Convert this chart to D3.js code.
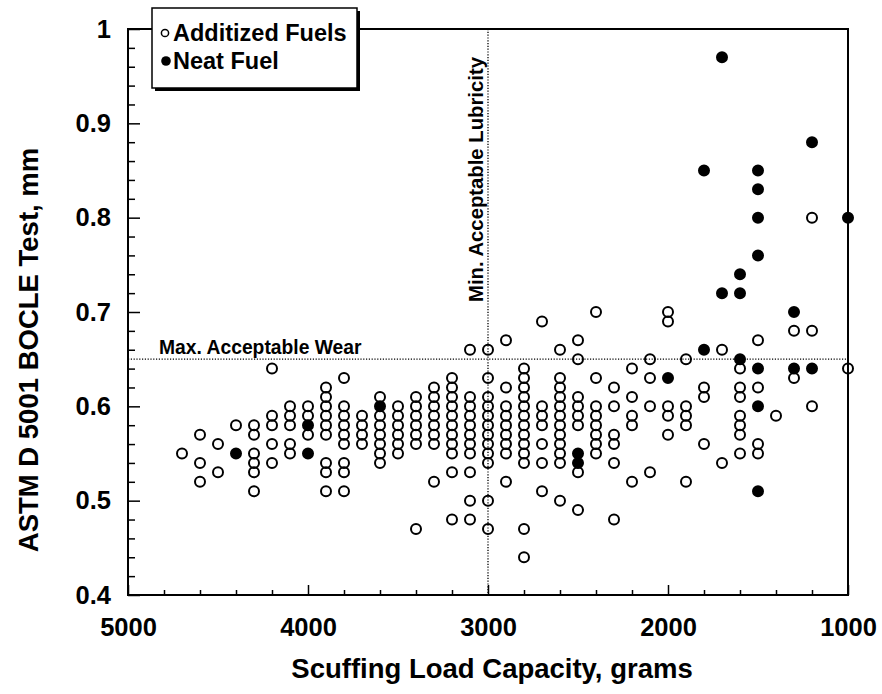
<!DOCTYPE html>
<html><head><meta charset="utf-8">
<script src="https://cdn.jsdelivr.net/npm/d3@7"></script>
<style>
body{margin:0;background:#fff}
svg{display:block}
text{font-family:'Liberation Sans',Arial,Helvetica,sans-serif;font-weight:bold;fill:#000}
</style>
</head><body>
<svg id="chart" width="882" height="694"></svg>
<script>
// ---- data (scuffing load in grams, BOCLE wear scar in mm) ----
const additizedLoads = [4700,4600,4500,4400,4300,4200,4100,4000,3900,3800,3700,3600,3500,3400,3300,3200,3100,3000,2900,2800,2700,2600,2500,2400,2300,2200,2100,2000,1900,1800,1700,1600,1500,1400,1300,1200,1000];
const additizedWear = [
  [0.55],
  [0.57,0.54,0.52],
  [0.56,0.53],
  [0.58],
  [0.58,0.57,0.55,0.54,0.53,0.51],
  [0.64,0.59,0.58,0.56,0.54],
  [0.60,0.59,0.58,0.56,0.55],
  [0.60,0.59,0.57],
  [0.62,0.61,0.60,0.59,0.58,0.57,0.54,0.53,0.51],
  [0.63,0.60,0.59,0.58,0.57,0.56,0.54,0.53,0.51],
  [0.59,0.58,0.57,0.56],
  [0.61,0.59,0.58,0.57,0.56,0.55,0.54],
  [0.60,0.59,0.58,0.57,0.56,0.55],
  [0.61,0.60,0.59,0.58,0.57,0.56,0.47],
  [0.62,0.61,0.60,0.59,0.58,0.57,0.56,0.52],
  [0.63,0.62,0.61,0.60,0.59,0.58,0.57,0.56,0.55,0.53,0.48],
  [0.66,0.61,0.60,0.59,0.58,0.57,0.56,0.55,0.53,0.50,0.48],
  [0.66,0.63,0.61,0.60,0.59,0.58,0.57,0.56,0.55,0.54,0.50,0.47],
  [0.67,0.62,0.60,0.59,0.58,0.57,0.56,0.55,0.52],
  [0.64,0.63,0.62,0.61,0.60,0.59,0.58,0.57,0.56,0.55,0.54,0.47,0.44],
  [0.69,0.60,0.59,0.58,0.56,0.54,0.51],
  [0.66,0.63,0.62,0.61,0.60,0.59,0.58,0.57,0.56,0.55,0.54,0.50],
  [0.67,0.65,0.61,0.60,0.59,0.58,0.53,0.49],
  [0.70,0.63,0.60,0.59,0.58,0.57,0.56,0.55],
  [0.62,0.60,0.57,0.56,0.54,0.48],
  [0.64,0.61,0.59,0.58,0.52],
  [0.65,0.63,0.60,0.53],
  [0.70,0.69,0.60,0.59,0.57],
  [0.65,0.60,0.59,0.58,0.52],
  [0.62,0.61,0.56],
  [0.66,0.54],
  [0.64,0.62,0.61,0.59,0.58,0.57,0.55],
  [0.67,0.62,0.56,0.55],
  [0.59],
  [0.68,0.63],
  [0.80,0.68,0.60],
  [0.64]
];
const neatLoads = [4400,4000,3600,2500,2000,1800,1700,1600,1500,1300,1200,1000];
const neatWear = [
  [0.55],
  [0.58,0.55],
  [0.60],
  [0.55,0.54],
  [0.63],
  [0.85,0.66],
  [0.97,0.72],
  [0.74,0.72,0.65],
  [0.85,0.83,0.80,0.76,0.64,0.60,0.51],
  [0.70,0.64],
  [0.88,0.64],
  [0.80]
];
const xTickValues = [5000,4000,3000,2000,1000];
const xTickLabels = ["5000","4000","3000","2000","1000"];
const yTickValues = [0.4,0.5,0.6,0.7,0.8,0.9,1.0];
const yTickLabels = ["0.4","0.5","0.6","0.7","0.8","0.9","1"];
const minLubricityLoad = 3000;
const maxWear = 0.65;
const legendLabels = ["Additized Fuels","Neat Fuel"];

// ---- layout ----
const svg = d3.select("#chart");
const L = 128, R = 848, T = 29, B = 595;
const x = d3.scaleLinear().domain([5000,1000]).range([L,R]);
const y = d3.scaleLinear().domain([0.4,1.0]).range([B,T]);

const flatten = (loads, wear) => loads.flatMap((ld,i) => wear[i].map(w => ({load: ld, wear: w})));
const additized = flatten(additizedLoads, additizedWear);
const neat = flatten(neatLoads, neatWear);

// minor ticks
const xMinor = d3.range(5000, 999, -200).filter(v => !xTickValues.includes(v));
const yMinor = d3.range(0, 31).map(i => +(0.4 + i*0.02).toFixed(2)).filter(v => !yTickValues.some(t => Math.abs(t-v)<1e-9));

svg.append("g").attr("transform",`translate(0,${B})`)
  .call(d3.axisBottom(x).tickValues(xMinor).tickSizeInner(-5).tickSizeOuter(0).tickFormat(""))
  .call(g => g.select(".domain").remove())
  .call(g => g.selectAll("line").attr("stroke","#000").attr("stroke-width",1.5));
svg.append("g").attr("transform",`translate(0,${B})`)
  .call(d3.axisBottom(x).tickValues(xTickValues).tickSizeInner(-10).tickSizeOuter(0).tickPadding(23)
    .tickFormat((d,i) => xTickLabels[i]))
  .call(g => g.select(".domain").remove())
  .call(g => g.selectAll("line").attr("stroke","#000").attr("stroke-width",1.5))
  .call(g => g.selectAll("text").attr("font-size",25.5).attr("font-family",null).attr("fill","#000"));

svg.append("g").attr("transform",`translate(${L},0)`)
  .call(d3.axisLeft(y).tickValues(yMinor).tickSizeInner(-7).tickSizeOuter(0).tickFormat(""))
  .call(g => g.select(".domain").remove())
  .call(g => g.selectAll("line").attr("stroke","#000").attr("stroke-width",1.5));
svg.append("g").attr("transform",`translate(${L},0)`)
  .call(d3.axisLeft(y).tickValues(yTickValues).tickSizeInner(-12).tickSizeOuter(0).tickPadding(17)
    .tickFormat((d,i) => yTickLabels[i]))
  .call(g => g.select(".domain").remove())
  .call(g => g.selectAll("line").attr("stroke","#000").attr("stroke-width",1.5))
  .call(g => g.selectAll("text").attr("font-size",25.5).attr("font-family",null).attr("fill","#000"));

// frame
svg.append("rect").attr("x",L).attr("y",T).attr("width",R-L).attr("height",B-T)
  .attr("fill","none").attr("stroke","#000").attr("stroke-width",2);

// reference lines
svg.append("line").attr("x1",x(minLubricityLoad)).attr("x2",x(minLubricityLoad))
  .attr("y1",y(1.0)).attr("y2",y(0.4))
  .attr("stroke","#000").attr("stroke-width",1.3).attr("stroke-dasharray","1.2,1.6");
svg.append("line").attr("x1",x(5000)).attr("x2",x(1000))
  .attr("y1",y(maxWear)).attr("y2",y(maxWear))
  .attr("stroke","#000").attr("stroke-width",1.3).attr("stroke-dasharray","1.2,1.6");

svg.append("text").attr("x",159).attr("y",y(maxWear)-5).attr("font-size",19.3)
  .text("Max. Acceptable Wear");
svg.append("text").attr("transform",`translate(${x(minLubricityLoad)-5},302) rotate(-90)`)
  .attr("font-size",20.3).text("Min. Acceptable Lubricity");

// points
svg.append("g").selectAll("circle").data(additized).join("circle")
  .attr("cx",d => x(d.load)).attr("cy",d => y(d.wear)).attr("r",5)
  .attr("fill","none").attr("stroke","#000").attr("stroke-width",2);
svg.append("g").selectAll("circle").data(neat).join("circle")
  .attr("cx",d => x(d.load)).attr("cy",d => y(d.wear)).attr("r",5)
  .attr("fill","#000").attr("stroke","#000").attr("stroke-width",2);

// axis titles
svg.append("text").attr("x",492).attr("y",678).attr("text-anchor","middle")
  .attr("font-size",27.5).text("Scuffing Load Capacity, grams");
svg.append("text").attr("transform",`translate(38,350) rotate(-90)`).attr("text-anchor","middle")
  .attr("font-size",27.5).text("ASTM D 5001 BOCLE Test, mm");

// legend
const lg = svg.append("g");
lg.append("rect").attr("x",155).attr("y",11).attr("width",205).attr("height",80).attr("fill","#000");
lg.append("rect").attr("x",152).attr("y",8).attr("width",205).attr("height",80)
  .attr("fill","#fff").attr("stroke","#000").attr("stroke-width",1.5);
lg.append("circle").attr("cx",165).attr("cy",33).attr("r",3.6)
  .attr("fill","none").attr("stroke","#000").attr("stroke-width",1.5);
lg.append("circle").attr("cx",166).attr("cy",61).attr("r",4.8).attr("fill","#000");
lg.append("text").attr("x",173).attr("y",41).attr("font-size",23.5).text(legendLabels[0]);
lg.append("text").attr("x",173).attr("y",69).attr("font-size",23.5).text(legendLabels[1]);
</script>
</body></html>
